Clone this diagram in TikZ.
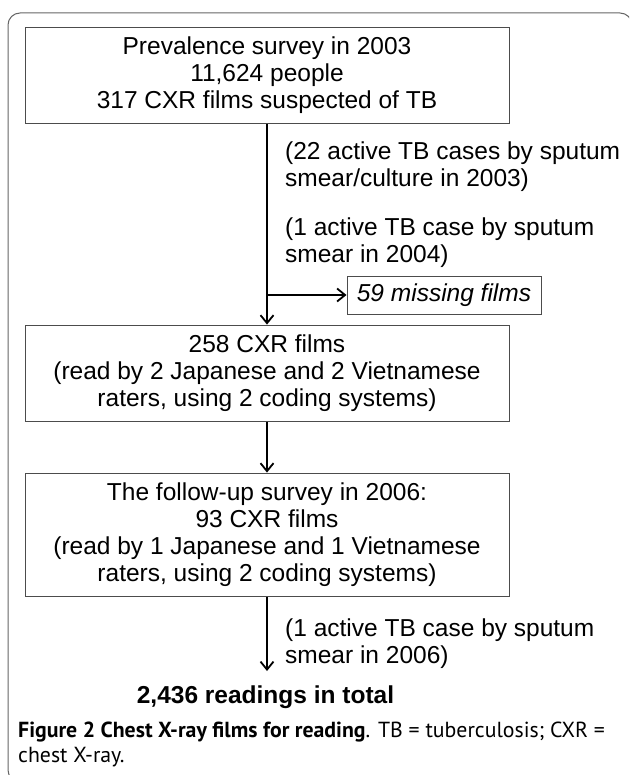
\documentclass[tikz,border=0pt]{standalone}
\usepackage{fontspec}
\setmainfont{Liberation Sans}
\newfontfamily\capfont{PT Sans}
\usetikzlibrary{arrows.meta}

\begin{document}
\begin{tikzpicture}
        [x=1pt, y=-1pt, font=\fontsize{24.5}{27}\selectfont,
        box/.style={draw=black!70, line width=1pt, align=center, minimum width=484pt, inner xsep=0pt, inner ysep=10pt},
        note/.style={align=left, inner sep=0pt, anchor=north west},
        flow/.style={line width=2pt, -{Straight Barb[length=8pt, width=13pt, line width=1.8pt]}}]

        \useasboundingbox (0,0) rectangle (629,775);
        \clip (0,0) rectangle (629,775);
        \draw[black!60, line width=1pt, rounded corners=12pt] (8,13) rectangle (632,782);

        \node[box] (survey) at (267,75.5) {Prevalence survey in 2003\\ 11,624 people\\ 317 CXR films suspected of TB};
        \node[box] (read1) at (267,373.5) {258 CXR films\\ (read by 2 Japanese and 2 Vietnamese\\ raters, using 2 coding systems)};
        \node[box] (read2) at (267,535) {The follow-up survey in 2006:\\ 93 CXR films\\ (read by 1 Japanese and 1 Vietnamese\\ raters, using 2 coding systems)};
        \node[box, minimum width=194pt, minimum height=38pt, inner ysep=0pt, font=\fontsize{24.5}{27}\selectfont\itshape] (missing) at (444,295) {59 missing films};

        \node[note] (cases03) at (285,142) {(22 active TB cases by sputum\\ smear/culture in 2003)};
        \node[note] (cases04) at (285,218) {(1 active TB case by sputum\\ smear in 2004)};
        \node[note] (cases06) at (285,619) {(1 active TB case by sputum\\ smear in 2006)};

        \node[inner sep=0pt, anchor=north, font=\fontsize{24.5}{27}\selectfont\bfseries] (total) at (265.5,686) {2,436 readings in total};

        \node[inner sep=0pt, anchor=north west, align=left, font=\capfont\fontsize{21.8}{25}\selectfont] (caption) at (18,722) {\textbf{Figure 2 Chest X-ray films for reading}. TB = tuberculosis; CXR =\\ chest X-ray.};

        \coordinate (split) at (survey.south |- missing.west);

        \draw[flow] (survey) -- (read1);
        \draw[flow] (split) -- (missing);
        \draw[flow] (read1) -- (read2);
        \draw[flow, shorten >=15pt] (read2.south) -- (read2.south |- total.north);

      \end{tikzpicture}
\end{document}
